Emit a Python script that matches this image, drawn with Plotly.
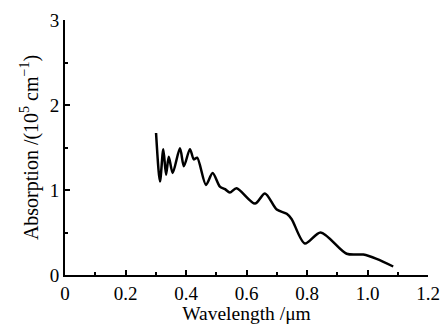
import plotly.graph_objects as go

wavelength = [0.301, 0.314, 0.325, 0.334, 0.343, 0.356, 0.380, 0.393, 0.413, 0.426, 0.437,
              0.466, 0.488, 0.512, 0.529, 0.545, 0.567, 0.628, 0.661, 0.700, 0.733, 0.749,
              0.793, 0.845, 0.931, 0.986, 1.030, 1.085]
absorption = [1.67, 1.10, 1.48, 1.18, 1.39, 1.20, 1.49, 1.28, 1.48, 1.36, 1.38,
              1.06, 1.20, 1.04, 1.01, 0.97, 1.02, 0.84, 0.96, 0.77, 0.72, 0.66,
              0.37, 0.50, 0.25, 0.24, 0.19, 0.10]

x_ticks = [0, 0.2, 0.4, 0.6, 0.8, 1.0, 1.2]
x_ticktext = ["0", "0.2", "0.4", "0.6", "0.8", "1.0", "1.2"]
y_ticks = [0, 1, 2, 3]

font = "Liberation Serif"

fig = go.Figure(go.Scatter(x=wavelength, y=absorption, mode="lines",
                           line=dict(color="black", width=2.5, shape="spline", smoothing=0.8)))

fig.update_layout(
    width=444, height=324,
    margin=dict(l=65, r=16, t=20, b=49, pad=0),
    paper_bgcolor="white", plot_bgcolor="white",
    showlegend=False,
    font=dict(family=font, size=19, color="black"),
)
fig.update_xaxes(range=[0, 1.2], tickvals=x_ticks, ticktext=x_ticktext, automargin=False,
                 tickfont=dict(family=font, size=19),
                 showline=True, linecolor="black", linewidth=2, showgrid=False, zeroline=False,
                 ticks="inside", ticklen=5, tickwidth=1.5, tickcolor="black",
                 minor=dict(ticks="inside", dtick=0.1, tick0=0, ticklen=3, tickwidth=1.5, tickcolor="black"),
                 title=dict(text="Wavelength /μm", font=dict(family=font, size=19.5), standoff=0))
fig.update_yaxes(range=[0, 3], tickvals=y_ticks, automargin=False,
                 tickfont=dict(family=font, size=19),
                 showline=True, linecolor="black", linewidth=2, showgrid=False, zeroline=False,
                 ticks="inside", ticklen=5, tickwidth=1.5, tickcolor="black",
                 minor=dict(ticks="inside", dtick=0.5, tick0=0, ticklen=3, tickwidth=1.5, tickcolor="black"),
                 title=dict(text="Absorption /(10<sup>5</sup> cm<sup>−1</sup>)", font=dict(family=font, size=20), standoff=6))

fig.write_html("out.html", config={"displayModeBar": False},
               post_script="document.body.style.margin='0';document.body.style.padding='0';document.body.style.overflow='hidden';")
